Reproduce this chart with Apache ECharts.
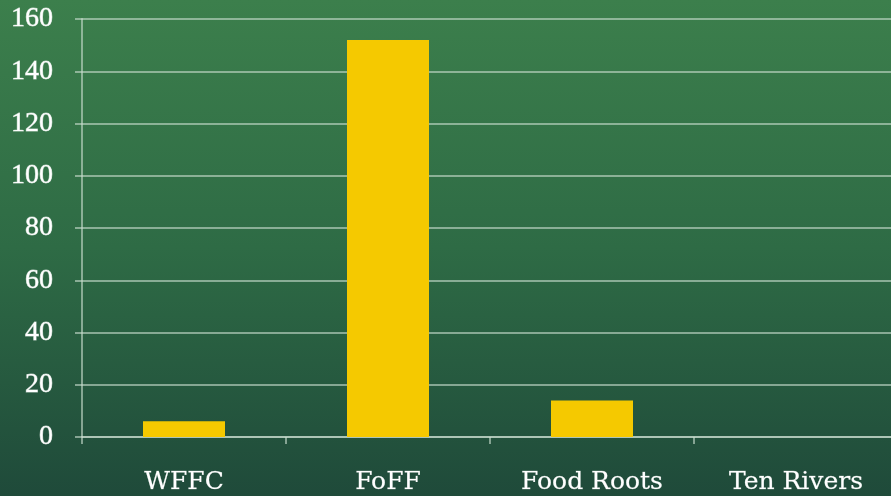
<!DOCTYPE html>
<html><head><meta charset="utf-8">
<script src="https://cdn.jsdelivr.net/npm/echarts@6/dist/echarts.min.js"></script>
<style>html,body{margin:0;padding:0;}#c{width:891px;height:496px;}</style>
</head><body><div id="c"></div>
<script>
const categories = ['WFFC', 'FoFF', 'Food Roots', 'Ten Rivers'];
const values = [6, 152, 14, 0];
const yTicks = [0, 20, 40, 60, 80, 100, 120, 140, 160];

const chart = echarts.init(document.getElementById('c'));
const serifY = "'Liberation Serif', serif";
const serifX = "'DejaVu Serif', serif";
const lineCol = 'rgba(200,220,205,0.6)';
chart.setOption({
  animation: false,
  backgroundColor: {
    type: 'linear', x: 0, y: 0, x2: 0, y2: 1,
    colorStops: [
      {offset: 0, color: '#3c7f4c'},
      {offset: 0.5, color: '#2e6b45'},
      {offset: 1, color: '#1f4a3a'}
    ]
  },
  grid: {left: 82, top: 19, width: 816, height: 418, containLabel: false, outerBoundsMode: 'none'},
  xAxis: {
    type: 'category',
    data: categories,
    axisLine: {lineStyle: {color: lineCol, width: 2}},
    axisTick: {show: true, length: 7, lineStyle: {color: lineCol, width: 2}},
    axisLabel: {color: '#ffffff', fontFamily: serifX, fontSize: 25, margin: 33,
      textBorderColor: 'rgba(255,255,255,0.5)', textBorderWidth: 0.4}
  },
  yAxis: {
    type: 'value',
    min: yTicks[0], max: yTicks[yTicks.length - 1], interval: 20,
    axisLine: {show: true, lineStyle: {color: lineCol, width: 2}},
    axisTick: {show: true, length: 7, lineStyle: {color: lineCol, width: 2}},
    splitLine: {lineStyle: {color: lineCol, width: 2}},
    axisLabel: {color: '#ffffff', fontFamily: serifY, fontSize: 28, margin: 29,
      textBorderColor: 'rgba(255,255,255,0.6)', textBorderWidth: 0.8}
  },
  series: [{
    type: 'bar',
    data: values,
    barWidth: 82,
    itemStyle: {color: '#f5c900'}
  }]
});
</script></body></html>
